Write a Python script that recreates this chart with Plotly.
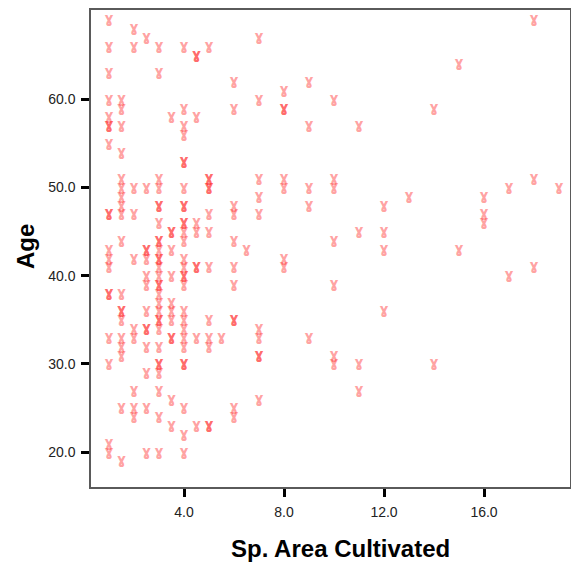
import plotly.graph_objects as go

# Sp. Area Cultivated (x) and Age (y), grouped by area value
area = (
    [1.0] * 19 + [1.5] * 19 + [2.0] * 10 + [2.5] * 14 + [3.0] * 29 + [3.5] * 12
    + [4.0] * 28 + [4.5] * 9 + [5.0] * 13 + [5.5] * 1 + [6.0] * 11 + [6.5] * 1
    + [7.0] * 10 + [8.0] * 7 + [9.0] * 5 + [10.0] * 7 + [11.0] * 4 + [12.0] * 4
    + [13.0] * 1 + [14.0] * 2 + [15.0] * 2 + [16.0] * 3 + [17.0] * 2 + [18.0] * 3
    + [19.0] * 1
)
age = [
    69, 66, 63, 60, 58, 57, 57, 55, 47, 47, 43, 42, 41, 38, 38, 33, 30, 21, 20,
    60, 59, 57, 54, 51, 50, 49, 48, 47, 44, 38, 36, 36, 35, 33, 32, 31, 25, 19,
    68, 66, 50, 47, 42, 34, 33, 27, 25, 24,
    67, 50, 43, 43, 42, 40, 39, 36, 34, 34, 32, 29, 25, 20,
    66, 63, 51, 50, 48, 48, 46, 44, 44, 43, 42, 42, 41, 40, 39, 39, 38, 37, 36,
    35, 35, 34, 32, 30, 30, 29, 27, 24, 20,
    58, 45, 45, 43, 40, 37, 36, 35, 33, 33, 26, 23,
    66, 59, 57, 56, 53, 53, 50, 48, 48, 46, 46, 45, 44, 42, 41, 40, 40, 39, 36,
    35, 34, 33, 32, 30, 30, 25, 22, 20,
    65, 65, 58, 46, 45, 41, 41, 33, 23,
    66, 51, 51, 50, 50, 47, 45, 41, 35, 33, 32, 23, 23,
    33,
    62, 59, 48, 47, 44, 41, 39, 35, 35, 25, 24,
    43,
    67, 60, 51, 49, 47, 34, 33, 31, 31, 26,
    61, 59, 59, 51, 50, 42, 41,
    62, 57, 50, 48, 33,
    60, 51, 50, 44, 39, 31, 30,
    57, 45, 30, 27,
    48, 45, 43, 36,
    49,
    59, 30,
    64, 43,
    49, 47, 46,
    50, 40,
    69, 51, 41,
    50,
]

x_ticks = [4.0, 8.0, 12.0, 16.0]
x_tick_labels = ["4.0", "8.0", "12.0", "16.0"]
y_ticks = [20.0, 30.0, 40.0, 50.0, 60.0]
y_tick_labels = ["20.0", "30.0", "40.0", "50.0", "60.0"]

fig = go.Figure()
fig.add_trace(go.Scatter(
    x=area, y=age, mode="text", text=["\u0263"] * len(age),
    textposition="middle center",
    textfont=dict(family="DejaVu Sans", size=14, weight="bold",
                  color="rgba(255,30,30,0.42)"),
    hoverinfo="x+y", showlegend=False,
))

axis_common = dict(
    showgrid=False, zeroline=False, showline=True, mirror=True,
    linecolor="#5a5a5a", linewidth=1.5, ticks="outside", ticklen=8,
    tickwidth=3, tickcolor="black", ticklabelstandoff=3,
    tickfont=dict(family="Liberation Sans, Arial", size=14, color="#222222"),
)
fig.update_xaxes(range=[0.28, 19.44], tickvals=x_ticks, ticktext=x_tick_labels,
                 **axis_common)
fig.update_yaxes(range=[16.04, 70.12], tickvals=y_ticks, ticktext=y_tick_labels,
                 **axis_common)

fig.add_annotation(text="<b>Sp. Area Cultivated</b>", xref="paper", yref="paper",
                   x=0.52, y=-0.128, xanchor="center", yanchor="middle",
                   showarrow=False,
                   font=dict(family="Liberation Sans, Arial", size=24, color="black"))
fig.add_annotation(text="<b>Age</b>", xref="paper", yref="paper",
                   x=-0.138, y=0.505, xanchor="center", yanchor="middle",
                   textangle=-90, showarrow=False,
                   font=dict(family="Liberation Sans, Arial", size=24, color="black"))

fig.update_layout(
    width=571, height=563,
    margin=dict(l=91, r=1, t=10, b=76, autoexpand=False),
    plot_bgcolor="white", paper_bgcolor="white",
)
fig.write_html("out.html", config={"displayModeBar": False},
               post_script="document.body.style.margin='0';document.body.style.overflow='hidden';")
